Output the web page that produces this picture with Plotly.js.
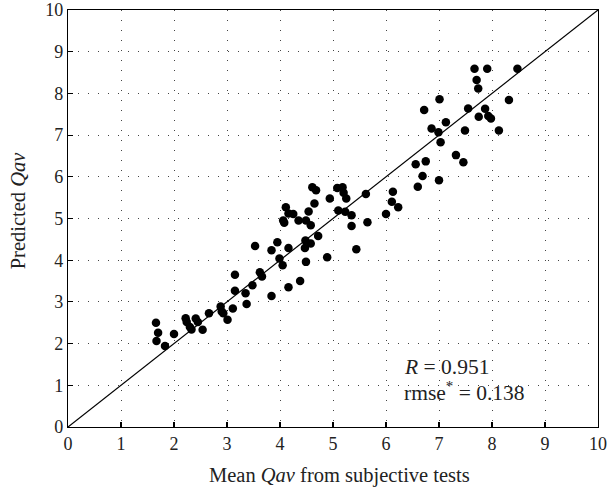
<!DOCTYPE html>
<html>
<head>
<meta charset="utf-8">
<script src="https://cdn.plot.ly/plotly-3.0.1.min.js"></script>
<style>html,body{margin:0;padding:0;background:#fff;}#chart{width:608px;height:490px;}</style>
</head>
<body>
<div id="chart"></div>
<script>
// Mean Qav from subjective tests (x) vs Predicted Qav (y)
const meanQav = [
  1.66,1.70,1.67,1.83,2.00,2.22,2.24,2.30,2.33,2.41,2.45,2.54,2.66,2.88,2.90,2.93,3.01,3.11,3.15,3.15,
  3.35,3.37,3.48,3.53,3.62,3.66,3.84,3.84,3.95,3.99,4.05,4.16,4.16,4.38,4.49,4.47,4.48,4.58,4.72,4.89,5.44,
  4.11,4.06,4.08,4.16,4.25,4.35,4.49,4.58,4.54,4.65,4.61,4.68,4.94,5.08,5.18,5.20,5.25,5.10,5.23,5.35,5.35,
  5.65,5.62,6.00,6.13,6.11,6.23,
  6.60,6.56,6.75,6.69,7.00,7.32,7.46,7.03,6.99,6.86,7.13,7.49,8.13,6.72,7.01,7.55,7.87,7.75,7.93,7.98,8.32,
  7.67,7.91,8.48,7.71,7.74
];
const predictedQav = [
  2.50,2.26,2.06,1.94,2.23,2.61,2.52,2.40,2.34,2.60,2.52,2.33,2.73,2.89,2.77,2.73,2.57,2.84,3.27,3.65,
  3.21,2.95,3.40,4.34,3.71,3.61,4.24,3.14,4.43,4.04,3.88,4.29,3.35,3.50,3.96,4.29,4.47,4.40,4.58,4.07,4.26,
  5.27,4.95,4.90,5.12,5.11,4.95,4.95,4.84,5.17,5.36,5.75,5.68,5.48,5.73,5.75,5.62,5.48,5.19,5.16,5.08,4.82,
  4.91,5.59,5.11,5.64,5.40,5.27,
  5.76,6.30,6.37,6.02,5.92,6.52,6.35,6.83,7.07,7.16,7.31,7.11,7.11,7.60,7.86,7.64,7.63,7.44,7.46,7.40,7.84,
  8.59,8.59,8.59,8.32,8.12
];
const refLineX = [0, 10];
const refLineY = [0, 10];
const tickVals = [0,1,2,3,4,5,6,7,8,9,10];
const xTitle = "Mean <i>Qav</i> from subjective tests";
const yTitle = "Predicted <i>Qav</i>";
const statR = "0.951";
const statRmse = "0.138";

const font = "Liberation Serif, Times New Roman, serif";

const traces = [
  {x: refLineX, y: refLineY, mode: "lines", type: "scatter",
   line: {color: "#000", width: 1.2}, hoverinfo: "skip", showlegend: false},
  {x: meanQav, y: predictedQav, mode: "markers", type: "scatter",
   marker: {color: "#000", size: 8.5}, showlegend: false}
];

const axisCommon = {
  range: [0, 10], tickvals: tickVals, ticks: "inside", ticklen: 5, tickwidth: 1.2,
  tickcolor: "#000", showline: true, linecolor: "#000", linewidth: 1.2, mirror: true,
  showgrid: true, gridcolor: "#444", gridwidth: 1, griddash: "1px,9px",
  zeroline: false, tickfont: {family: font, size: 18, color: "#222"}
};

const layout = {
  width: 608, height: 490,
  margin: {l: 68, r: 10, t: 10, b: 63},
  paper_bgcolor: "#fff", plot_bgcolor: "#fff",
  font: {family: font, color: "#222"},
  xaxis: Object.assign({}, axisCommon),
  yaxis: Object.assign({}, axisCommon),
  annotations: [
    {x: 0.513, y: -0.117, xref: "paper", yref: "paper", xanchor: "center", yanchor: "middle", showarrow: false,
     text: xTitle, font: {family: font, size: 20.5, color: "#222"}},
    {x: -0.094, y: 0.52, xref: "paper", yref: "paper", xanchor: "center", yanchor: "middle", showarrow: false,
     textangle: -90, text: yTitle, font: {family: font, size: 20.5, color: "#222"}},
    {x: 6.3, y: 1.45, xref: "x", yref: "y", xanchor: "left", yanchor: "middle", showarrow: false,
     text: "<i>R</i> = " + statR, font: {family: font, size: 21.5, color: "#222"}},
    {x: 6.3, y: 0.85, xref: "x", yref: "y", xanchor: "left", yanchor: "middle", showarrow: false,
     text: "rmse<sup>*</sup> = " + statRmse, font: {family: font, size: 21.5, color: "#222"}}
  ]
};

Plotly.newPlot("chart", traces, layout, {displayModeBar: false, staticPlot: true});
</script>
</body>
</html>
